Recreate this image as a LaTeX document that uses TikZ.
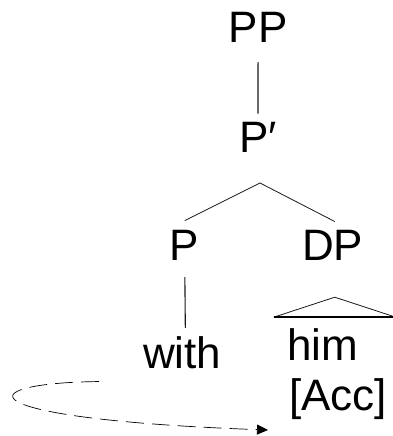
\documentclass[tikz,border=0pt]{standalone}
\usepackage{fontspec}
\setmainfont{Liberation Sans}
\usetikzlibrary{arrows.meta}
\begin{document}
\begin{tikzpicture}[x=1pt,y=-1pt,
  lbl/.style={inner sep=0pt,anchor=base west,font=\fontsize{44}{50}\selectfont},
  edge/.style={line width=1.1pt,draw=black!90},
  thin/.style={line width=0.8pt,draw=black!90},
  move/.style={line width=0.7pt,dash pattern=on 18pt off 8pt,-{Triangle[length=11pt,width=10pt]}}]
\useasboundingbox (0,0) rectangle (392,436);
\node[lbl] (PP) at (228.5,43) {PP};
\node[lbl] (Pbar) at (239,152) {P′};
\node[lbl] (P) at (169,260) {P};
\node[lbl] (DP) at (302,260) {DP};
\node[lbl] (with) at (143,368) {with};
\node[lbl] (him) at (287,360) {him};
\node[lbl] (acc) at (289,410) {[Acc]};
\coordinate (apex) at (260,183);
\draw[edge] ([yshift=-19pt]PP.south) -- ([yshift=8pt]Pbar.north);
\draw[thin] ([xshift=1pt,yshift=9pt]P.north) -- (apex) -- ([xshift=2pt,yshift=8pt]DP.north);
\draw[edge] ([xshift=1pt,yshift=-17pt]P.south) -- ([xshift=3pt,yshift=8pt]with.north);
\coordinate (tri) at ([xshift=2pt,yshift=-37pt]DP.south);
\draw[thin] ([xshift=-61pt,yshift=-20pt]tri) -- (tri) -- ([xshift=61pt,yshift=-20pt]tri);
\draw[line width=2pt] ([xshift=-61pt,yshift=-20pt]tri) -- ([xshift=61pt,yshift=-20pt]tri);
\coordinate (mvS) at ([xshift=-44pt,yshift=-13pt]with.south west);
\coordinate (mvE) at ([xshift=-21pt,yshift=-20pt]acc.base west);
\draw[move] (mvS) .. controls (-35,383) and (-35,419) .. (mvE);
\end{tikzpicture}
\end{document}
